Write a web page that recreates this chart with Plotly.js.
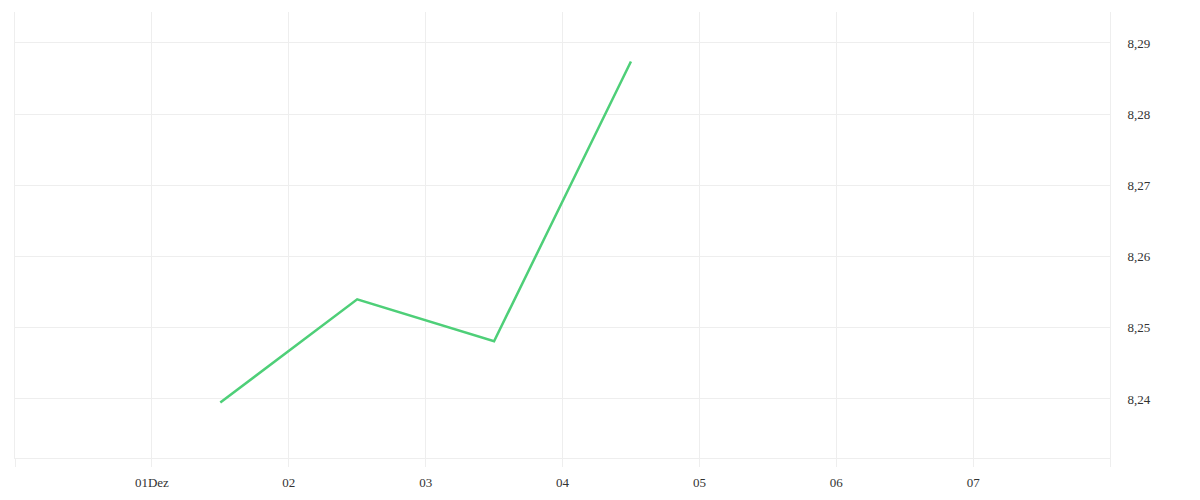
<!DOCTYPE html>
<html>
<head>
<meta charset="utf-8">
<script src="https://cdn.plot.ly/plotly-3.0.1.min.js"></script>
<style>
  html, body { margin: 0; padding: 0; background: #fff; }
  #plot { width: 1200px; height: 500px; }
</style>
</head>
<body>
<div id="plot"></div>
<script>
// Kursdaten (Mittag jedes Tages)
var dates = ['2023-12-01 12:00', '2023-12-02 12:00', '2023-12-03 12:00', '2023-12-04 12:00']
var values = [8.2395, 8.2540, 8.2481, 8.2874]

var tickDates = ['2023-11-30', '2023-12-01', '2023-12-02', '2023-12-03', '2023-12-04',
                 '2023-12-05', '2023-12-06', '2023-12-07', '2023-12-08']
var tickLabels = ['', '01Dez', '02', '03', '04', '05', '06', '07', '']

var yTicks = [8.24, 8.25, 8.26, 8.27, 8.28, 8.29]

var trace = {
    x: dates,
    y: values,
    type: 'scatter',
    mode: 'lines',
    line: {color: '#4ecf78', width: 2.5},
    hoverinfo: 'skip'
}

var layout = {
    width: 1200,
    height: 500,
    margin: {l: 15, r: 90, t: 12, b: 42},
    paper_bgcolor: '#ffffff',
    plot_bgcolor: '#ffffff',
    showlegend: false,
    separators: ',.',
    font: {family: '"Liberation Serif", serif', size: 13, color: '#333'},
    xaxis: {
        type: 'date',
        range: ['2023-11-30', '2023-12-08'],
        tickmode: 'array',
        tickvals: tickDates,
        ticktext: tickLabels,
        showgrid: true,
        gridcolor: '#eeeeee',
        ticks: 'outside',
        ticklen: 8,
        tickcolor: '#eeeeee',
        ticklabelstandoff: 4,
        showline: true,
        linecolor: '#eeeeee',
        zeroline: false,
        fixedrange: true
    },
    yaxis: {
        side: 'right',
        range: [8.23171, 8.29435],
        tickmode: 'array',
        tickvals: yTicks,
        tickformat: '.2f',
        showgrid: true,
        gridcolor: '#eeeeee',
        showline: true,
        mirror: true,
        linecolor: '#eeeeee',
        ticks: '',
        ticklabelstandoff: 14,
        zeroline: false,
        fixedrange: true
    }
}

Plotly.newPlot('plot', [trace], layout, {displayModeBar: false, staticPlot: true})
</script>
</body>
</html>
